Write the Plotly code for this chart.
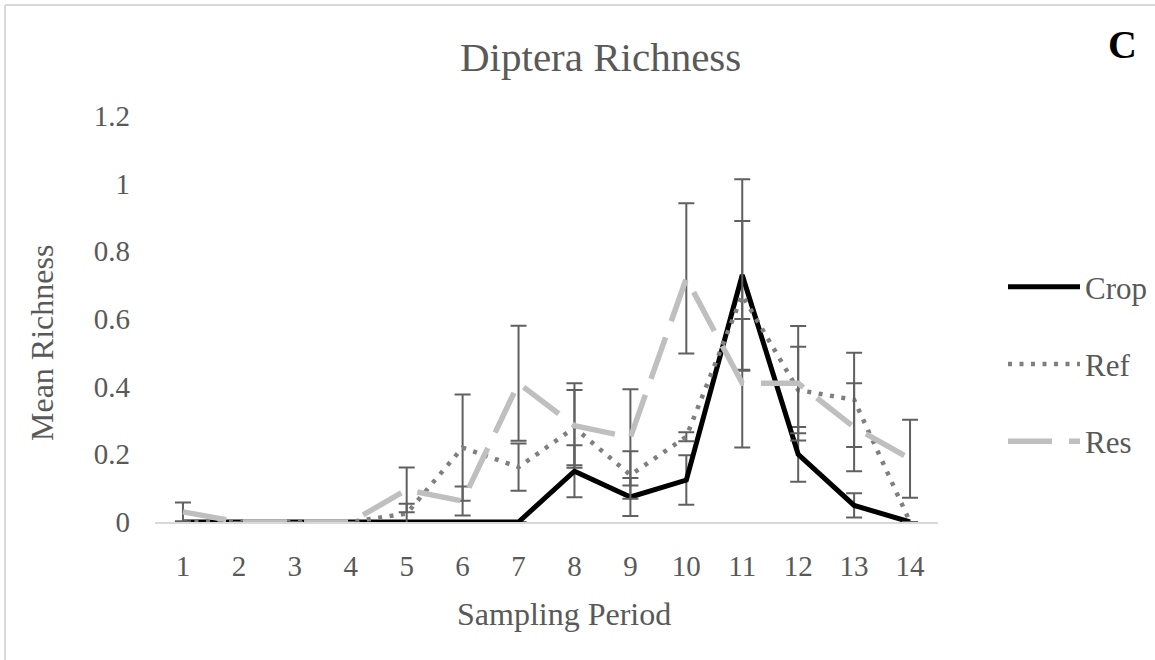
import plotly.graph_objects as go

periods = list(range(1, 15))
tick_labels = [str(p) for p in periods]

crop_mean = [0, 0, 0, 0, 0, 0, 0, 0.15, 0.074, 0.124, 0.73, 0.2, 0.049, 0]
crop_err = [None, None, None, None, None, None, None, 0.077, 0.056, 0.073, 0.283, 0.081, 0.036, None]

ref_mean = [0, 0, 0, 0, 0.025, 0.22, 0.162, 0.279, 0.139, 0.252, 0.67, 0.39, 0.361, 0.0]
ref_err = [None, None, None, None, 0.029, 0.157, 0.07, 0.111, 0.07, 0.013, 0.22, 0.128, 0.139, None]

res_mean = [0.03, 0, 0, 0, 0.095, 0.062, 0.41, 0.285, 0.25, 0.72, 0.41, 0.41, 0.28, 0.187]
res_err = [0.028, None, None, None, 0.066, 0.043, 0.17, 0.125, 0.142, 0.222, 0.19, 0.169, 0.13, 0.115]

FONT = "Liberation Serif, Times New Roman, serif"
TXT = "#595959"
ERR = "#606060"

fig = go.Figure()

def add(name, y, err, color, width, dash, group):
    fig.add_trace(go.Scatter(
        x=periods, y=y, name=name, mode="lines",
        line=dict(color=color, width=width, dash=dash),
        error_y=dict(type="data", array=err, visible=True, color=ERR,
                     thickness=2, width=8),
        legendgroup=group,
    ))

add("Crop", crop_mean, crop_err, "#000000", 5, "solid", "g1")
add("Ref", ref_mean, ref_err, "#7f7f7f", 4.5, "4px,7.5px", "g2")
add("Res", res_mean, res_err, "#bfbfbf", 5.5, "44px,17px", "g3")

L, R, T, B = 155, 217, 116, 138
W, H = 1155, 660
PW, PH = W - L - R, H - T - B

def px(x):
    return (x - L) / PW

def py(y):
    return 1 - (y - T) / PH

fig.update_layout(
    width=W, height=H,
    margin=dict(l=L, r=R, t=T, b=B, autoexpand=False),
    paper_bgcolor="white", plot_bgcolor="white",
    font=dict(family=FONT, color=TXT, size=29),
    showlegend=True,
    legend=dict(
        x=px(1003), xanchor="left",
        y=py(364), yanchor="middle",
        font=dict(size=31, color=TXT, family=FONT),
        itemwidth=72, traceorder="grouped", tracegroupgap=34,
        bgcolor="rgba(0,0,0,0)",
    ),
    xaxis=dict(
        range=[0.5, 14.5], tickmode="array", tickvals=periods, ticktext=tick_labels,
        showgrid=False, zeroline=False, showline=True, linecolor="#d9d9d9", linewidth=1.5,
        ticks="", ticklabelstandoff=17,
        tickfont=dict(size=29, color=TXT, family=FONT),
    ),
    yaxis=dict(
        range=[0, 1.2], tickmode="array", tickvals=[0, 0.2, 0.4, 0.6, 0.8, 1, 1.2],
        ticktext=["0", "0.2", "0.4", "0.6", "0.8", "1", "1.2"],
        showgrid=False, zeroline=False, showline=False, ticks="",
        ticklabelstandoff=24,
        tickfont=dict(size=29, color=TXT, family=FONT),
    ),
    annotations=[
        dict(text="Diptera Richness", xref="paper", yref="paper",
             x=px(600), y=py(57),
             xanchor="center", yanchor="middle", showarrow=False,
             font=dict(size=41, color=TXT, family=FONT)),
        dict(text="<b>C</b>", xref="paper", yref="paper",
             x=px(1122), y=py(44),
             xanchor="center", yanchor="middle", showarrow=False,
             font=dict(size=40, color="#000000", family=FONT)),
        dict(text="Mean Richness", xref="paper", yref="paper",
             x=px(42), y=py(343),
             xanchor="center", yanchor="middle", showarrow=False, textangle=-90,
             font=dict(size=32, color=TXT, family=FONT)),
        dict(text="Sampling Period", xref="paper", yref="paper",
             x=px(564), y=py(614),
             xanchor="center", yanchor="middle", showarrow=False,
             font=dict(size=32, color=TXT, family=FONT)),
    ],
    shapes=[
        dict(type="line", xref="paper", yref="paper",
             x0=px(5), x1=px(W + 10), y0=py(5), y1=py(5),
             line=dict(color="#d9d9d9", width=2)),
        dict(type="line", xref="paper", yref="paper",
             x0=px(5), x1=px(5), y0=py(5), y1=py(H + 10),
             line=dict(color="#d9d9d9", width=2)),
    ],
)

fig.write_html("out.html")
